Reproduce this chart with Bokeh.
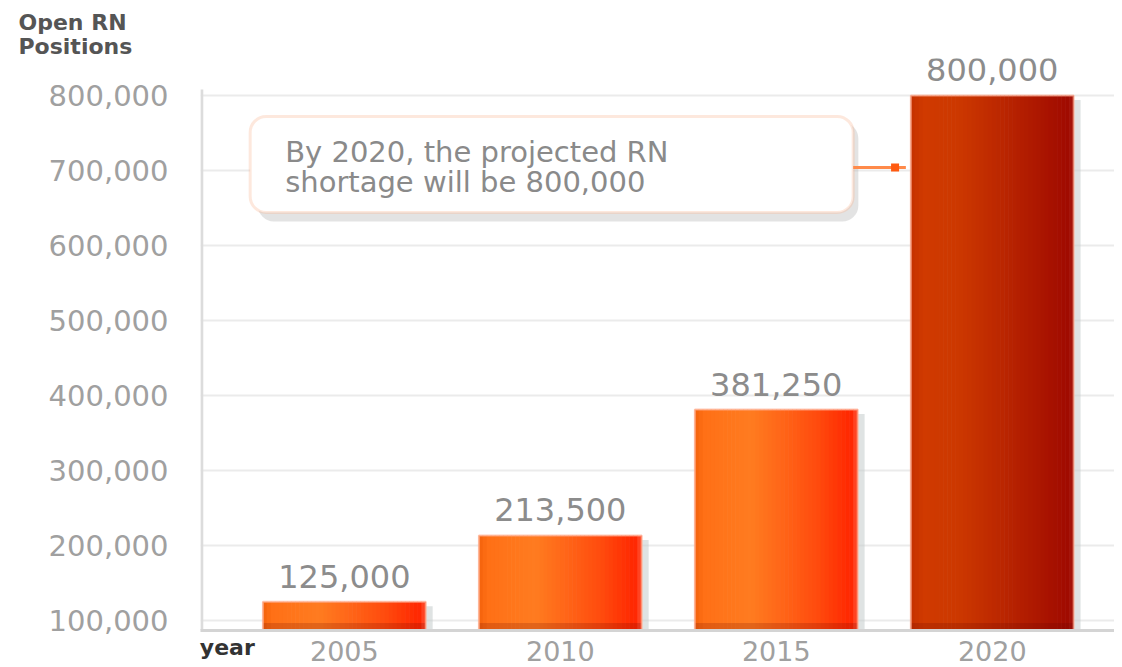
from bokeh.plotting import figure
from bokeh.models import Range1d, FixedTicker, NumeralTickFormatter, BoxAnnotation
from bokeh.core.properties import value
from bokeh.embed import file_html
from bokeh.resources import INLINE

# ---------------- data ----------------
years = [2005, 2010, 2015, 2020]
openings = [125000, 213500, 381250, 800000]
value_labels = ["125,000", "213,500", "381,250", "800,000"]
y_ticks = [100000, 200000, 300000, 400000, 500000, 600000, 700000, 800000]
callout_text = ["By 2020, the projected RN", "shortage will be 800,000"]

# ---------------- styling ----------------
FONT = "DejaVu Sans"
X0, X1 = 2001.67, 2022.83
Y0, Y1 = 86700, 849300
BAR_W = 3.77

orange_stops = [(0.0, "#f4620c"), (0.06, "#ff7016"), (0.35, "#ff7b20"),
                (0.75, "#ff4c0e"), (0.96, "#ff2600"), (1.0, "#ff5030")]
red_stops = [(0.0, "#c43000"), (0.08, "#d03a00"), (0.3, "#cc3800"),
             (0.97, "#a00a00"), (1.0, "#a81a10")]


def lerp_color(stops, t):
    for (t0, c0), (t1, c1) in zip(stops[:-1], stops[1:]):
        if t0 <= t <= t1:
            f = 0 if t1 == t0 else (t - t0) / (t1 - t0)
            a = [int(c0[i:i + 2], 16) for i in (1, 3, 5)]
            b = [int(c1[i:i + 2], 16) for i in (1, 3, 5)]
            return "#%02x%02x%02x" % tuple(round(a[j] + (b[j] - a[j]) * f) for j in range(3))
    return stops[-1][1]


p = figure(width=1114, height=667, output_backend="svg", toolbar_location=None,
           x_range=Range1d(X0, X1), y_range=Range1d(Y0, Y1),
           min_border_left=200, min_border_right=0, min_border_top=58,
           min_border_bottom=37)
p.outline_line_color = None
p.background_fill_color = "white"

# title (y axis caption at top-left)
p.title.text = "Open RN\nPositions"
p.title.align = "left"
p.title.offset = -182
p.title.standoff = 0
p.title.text_font = FONT
p.title.text_font_size = "22px"
p.title.text_font_style = "bold"
p.title.text_color = "#555555"
p.title.text_line_height = 0.95

# grid
p.xgrid.grid_line_color = None
p.ygrid.ticker = FixedTicker(ticks=y_ticks)
p.ygrid.grid_line_color = "#ebebeb"
p.ygrid.grid_line_width = 2

# axes
p.yaxis.ticker = FixedTicker(ticks=y_ticks)
p.yaxis.formatter = NumeralTickFormatter(format="0,0")
p.yaxis.axis_line_color = None
p.yaxis.major_tick_line_color = None
p.yaxis.minor_tick_line_color = None
p.yaxis.major_label_standoff = 26
p.yaxis.major_label_text_font = FONT
p.yaxis.major_label_text_font_size = "29px"
p.yaxis.major_label_text_color = "#a0a0a0"

p.xaxis.ticker = FixedTicker(ticks=years)
p.xaxis.axis_line_color = "#d4d4d4"
p.xaxis.axis_line_width = 3
p.xaxis.major_tick_line_color = None
p.xaxis.minor_tick_line_color = None
p.xaxis.major_label_standoff = 4
p.xaxis.major_label_text_font = FONT
p.xaxis.major_label_text_font_size = "27px"
p.xaxis.major_label_text_color = "#a0a0a0"
p.xaxis.axis_label = "\u00a0" * 7 + "year"
p.xaxis.axis_label_align = "start"
p.xaxis.axis_label_standoff = -29
p.xaxis.axis_label_text_font = FONT
p.xaxis.axis_label_text_font_size = "22px"
p.xaxis.axis_label_text_font_style = "bold"
p.xaxis.axis_label_text_color = "#333333"

# left frame line
p.segment(x0=[X0 + 0.03], y0=[Y0], x1=[X0 + 0.03], y1=[808000],
          line_color="#dcdcdc", line_width=3)

# bar shadows
p.vbar(x=[y + 0.16 for y in years], top=[v - 6000 for v in openings], bottom=Y0,
       width=BAR_W, fill_color="#c4cccc", fill_alpha=0.55, line_color=None)

# gradient bars drawn as thin strips
N = 40
sx, stop, scol = [], [], []
for yr, v in zip(years, openings):
    stops = red_stops if yr == years[-1] else orange_stops
    for k in range(N):
        t = (k + 0.5) / N
        sx.append(yr - BAR_W / 2 + t * BAR_W)
        stop.append(v)
        scol.append(lerp_color(stops, t))
p.vbar(x=sx, top=stop, bottom=Y0, width=BAR_W / N * 1.15,
       fill_color=scol, line_color=None)

# bottom darker band and light rim
p.vbar(x=years, top=[Y0 + 10000] * len(years), bottom=Y0, width=BAR_W,
       fill_color="#600000", fill_alpha=0.18, line_color=None)
p.vbar(x=years, top=openings, bottom=Y0, width=BAR_W, fill_color=None,
       line_color="#ffb49a", line_alpha=0.7, line_width=2)

# value labels
p.text(x=years, y=openings, text=value_labels, y_offset=-14,
       text_align="center", text_baseline="bottom",
       text_font=value(FONT), text_font_size="32px", text_color="#8c8c8c")

# callout box
p.add_layout(BoxAnnotation(left=2003.0, right=2016.9, top=764000, bottom=632000,
                           fill_color="#b0b0b0", fill_alpha=0.35, line_color=None,
                           border_radius=16, level="underlay"))
p.add_layout(BoxAnnotation(left=2002.82, right=2016.78, top=772000, bottom=644000,
                           fill_color="white", fill_alpha=1.0, line_color="#f9b48e",
                           line_width=3, border_radius=16, level="underlay"))
p.segment(x0=[2016.78], y0=[704000], x1=[2018.0], y1=[704000],
          line_color="#ff8a4a", line_width=3)
p.scatter(x=[2017.75], y=[704000], marker="square", size=8,
          fill_color="#ff5a10", line_color=None)
p.text(x=[2003.63, 2003.63], y=[725000, 685000], text=callout_text,
       text_align="left", text_baseline="middle",
       text_font=value(FONT), text_font_size="29px", text_color="#8a8a8a")

open("out.html", "w").write(file_html(p, INLINE))
